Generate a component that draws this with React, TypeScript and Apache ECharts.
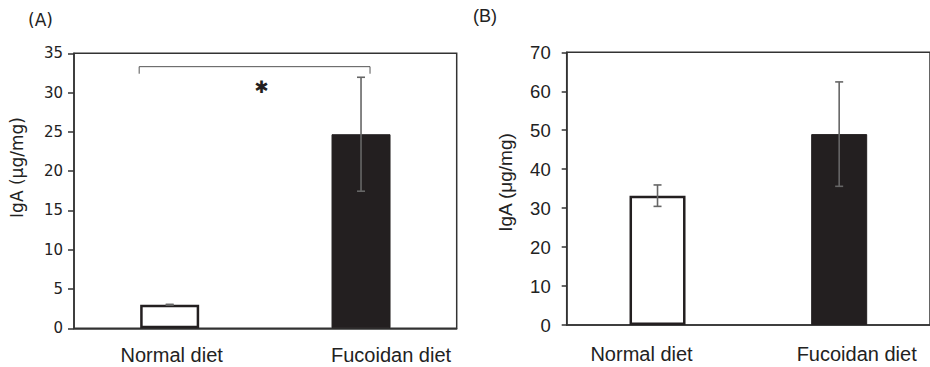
import React, { useEffect, useRef } from "react";
import * as echarts from "echarts";

const CATEGORIES = ["Normal diet", "Fucoidan diet"];
const A_MEANS = [3.0, 24.7];
const A_ERRORS = [0.05, 7.25];
const B_MEANS = [33.2, 49.0];
const B_ERRORS = [2.75, 13.4];
const A_Y = { min: 0, max: 35, interval: 5 };
const B_Y = { min: 0, max: 70, interval: 10 };
// significance bracket: [from category, to category, bracket level, leg bottom, asterisk level]
const A_BRACKET = [[0, 1, 33.3, 32.4, 30.7]];
const Y_NAME = "IgA (μg/mg)";

const BAR_DARK = "#231f20";
const AXIS = "#333333";
const ERR = "#666666";

function errData(means: number[], errs: number[]) {
  return means.map((m, i) => [i, m - errs[i], m + errs[i]]);
}

function barData(means: number[]) {
  return means.map((v, i) =>
    i === 0
      ? { value: v, itemStyle: { color: "#ffffff", borderColor: BAR_DARK, borderWidth: 2.5 } }
      : { value: v, itemStyle: { color: BAR_DARK, borderColor: BAR_DARK, borderWidth: 1 } }
  );
}

const errRender = (params: any, api: any) => {
  const xi = api.value(0);
  const lo = api.value(1);
  const hi = api.value(2);
  const top = api.coord([xi, hi]);
  const bot = api.coord([xi, lo]);
  const cap = 4;
  const style = { stroke: ERR, lineWidth: 1.6 };
  return {
    type: "group",
    children: [
      { type: "line", shape: { x1: top[0], y1: top[1], x2: bot[0], y2: bot[1] }, style },
      { type: "line", shape: { x1: top[0] - cap, y1: top[1], x2: top[0] + cap, y2: top[1] }, style },
      { type: "line", shape: { x1: bot[0] - cap, y1: bot[1], x2: bot[0] + cap, y2: bot[1] }, style },
    ],
  };
};

const bracketRender = (params: any, api: any) => {
  const c0 = api.coord([api.value(0), api.value(2)]);
  const c1 = api.coord([api.value(1), api.value(2)]);
  const legY = api.coord([api.value(0), api.value(3)])[1];
  const starY = api.coord([api.value(0), api.value(4)])[1];
  const left = c0[0] - 30.5;
  const right = c1[0] + 9;
  return {
    type: "group",
    children: [
      {
        type: "polyline",
        shape: { points: [[left, legY], [left, c0[1]], [right, c0[1]], [right, legY]] },
        style: { stroke: "#555555", lineWidth: 1, fill: null },
      },
      {
        type: "text",
        x: (c0[0] + c1[0]) / 2 - 4,
        y: starY,
        style: {
          text: "✱",
          fill: BAR_DARK,
          font: "17px 'DejaVu Sans'",
          align: "center",
          verticalAlign: "middle",
        },
      },
    ],
  };
};

export default function App() {
  const ref = useRef<HTMLDivElement>(null);
  useEffect(() => {
    if (!ref.current) return;
    const chart = echarts.init(ref.current, undefined, { renderer: "svg" });
    const gridBase = {
      show: true,
      borderColor: AXIS,
      borderWidth: 1.5,
      backgroundColor: "transparent",
      containLabel: false,
    };
    chart.setOption({
      animation: false,
      grid: [
        { ...gridBase, left: 74, top: 53.3, right: 473.3, bottom: 38.7 },
        { ...gridBase, left: 566.7, top: 52.3, right: -5.3, bottom: 42 },
      ],
      xAxis: [
        {
          type: "category",
          gridIndex: 0,
          data: CATEGORIES,
          axisLine: { lineStyle: { color: AXIS, width: 1.5 } },
          axisTick: { show: false },
          axisLabel: {
            margin: 17,
            formatter: (v: string, i: number) => `{c${i}|${v}}`,
            rich: {
              c0: { fontFamily: "'Liberation Sans', Arial", fontSize: 20, color: "#222", padding: [0, 0, 0, 4] },
              c1: { fontFamily: "'Liberation Sans', Arial", fontSize: 20, color: "#222", padding: [0, 0, 0, 60] },
            },
          },
        },
        {
          type: "category",
          gridIndex: 1,
          data: CATEGORIES,
          axisLine: { lineStyle: { color: AXIS, width: 1.5 } },
          axisTick: { show: false },
          axisLabel: {
            margin: 19,
            formatter: (v: string, i: number) => `{c${i}|${v}}`,
            rich: {
              c0: { fontFamily: "'Liberation Sans', Arial", fontSize: 20, color: "#222", padding: [0, 32, 0, 0] },
              c1: { fontFamily: "'Liberation Sans', Arial", fontSize: 20, color: "#222", padding: [0, 0, 0, 35] },
            },
          },
        },
      ],
      yAxis: [
        {
          type: "value",
          gridIndex: 0,
          ...A_Y,
          axisLine: { show: true, lineStyle: { color: AXIS, width: 1.5 } },
          axisTick: { show: true, length: 6, lineStyle: { color: AXIS, width: 1.5 } },
          splitLine: { show: false },
          axisLabel: { margin: 11, fontFamily: "'DejaVu Sans'", fontSize: 15, color: "#222" },
        },
        {
          type: "value",
          gridIndex: 1,
          ...B_Y,
          axisLine: { show: true, lineStyle: { color: AXIS, width: 1.5 } },
          axisTick: { show: true, length: 5, lineStyle: { color: AXIS, width: 1.5 } },
          splitLine: { show: false },
          axisLabel: { margin: 16, fontFamily: "'Liberation Sans', Arial", fontSize: 18.5, color: "#222" },
        },
      ],
      series: [
        { type: "bar", xAxisIndex: 0, yAxisIndex: 0, barWidth: 59, data: barData(A_MEANS), z: 2 },
        {
          type: "custom",
          xAxisIndex: 0,
          yAxisIndex: 0,
          data: errData(A_MEANS, A_ERRORS),
          encode: { x: 0, y: [1, 2] },
          renderItem: errRender,
          z: 5,
        },
        {
          type: "custom",
          xAxisIndex: 0,
          yAxisIndex: 0,
          data: A_BRACKET,
          encode: { x: [0, 1], y: [2, 3, 4] },
          renderItem: bracketRender,
          z: 5,
        },
        { type: "bar", xAxisIndex: 1, yAxisIndex: 1, barWidth: 56, data: barData(B_MEANS), z: 2 },
        {
          type: "custom",
          xAxisIndex: 1,
          yAxisIndex: 1,
          data: errData(B_MEANS, B_ERRORS),
          encode: { x: 0, y: [1, 2] },
          renderItem: errRender,
          z: 5,
        },
      ],
      graphic: [
        {
          type: "text",
          x: 28,
          y: 20,
          style: { text: "(A)", font: "17px 'DejaVu Sans'", fill: "#222", align: "left", verticalAlign: "middle" },
        },
        {
          type: "text",
          x: 473,
          y: 16,
          style: { text: "(B)", font: "18px 'Liberation Sans', Arial", fill: "#222", align: "left", verticalAlign: "middle" },
        },
        {
          type: "text",
          x: 17,
          y: 167.5,
          rotation: Math.PI / 2,
          style: { text: Y_NAME, font: "17px 'DejaVu Sans'", fill: "#222", align: "center", verticalAlign: "middle" },
        },
        {
          type: "text",
          x: 505,
          y: 182.5,
          rotation: Math.PI / 2,
          style: { text: Y_NAME, font: "19px 'Liberation Sans', Arial", fill: "#222", align: "center", verticalAlign: "middle" },
        },
      ],
    });
    return () => chart.dispose();
  }, []);
  return (
    <div
      ref={ref}
      style={{ position: "fixed", left: 0, top: 0, width: 930, height: 367, background: "#fff" }}
    />
  );
}
